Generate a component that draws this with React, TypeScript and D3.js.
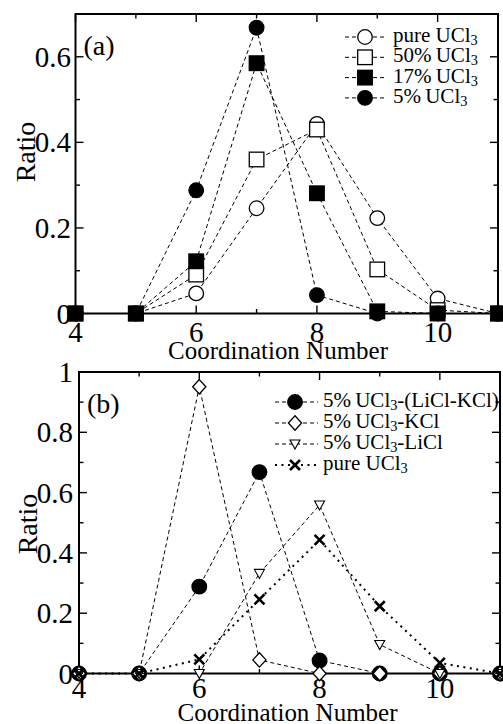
import React from "react";
import * as d3 from "d3";

// Coordination numbers on the x axis
const coordination = [4, 5, 6, 7, 8, 9, 10, 11];

// Panel (a): ratio of U coordination numbers in UCl3 mixtures
const pureUCl3 = [0, 0, 0.047, 0.246, 0.443, 0.223, 0.035, 0];
const ucl3At50 = [0, 0, 0.091, 0.36, 0.43, 0.103, 0.008, 0];
const ucl3At17 = [0, 0, 0.122, 0.585, 0.281, 0.005, 0, 0];
const ucl3At5 = [0, 0, 0.288, 0.668, 0.043, 0, 0, 0];

// Panel (b): 5% UCl3 in different solvent salts
const ucl3LiClKCl = [0, 0, 0.288, 0.668, 0.043, 0, 0, 0];
const ucl3KCl = [0, 0, 0.951, 0.045, 0, 0, 0, 0];
const ucl3LiCl = [0, 0, 0, 0.332, 0.559, 0.096, 0, 0];

const xTicksMajor = [4, 6, 8, 10];
const xTicksMinor = [5, 7, 9];
const yTicksA = [0, 0.2, 0.4, 0.6];
const yTicksB = [0, 0.2, 0.4, 0.6, 0.8, 1];

const FONT = "'Liberation Serif', 'Times New Roman', serif";

type MarkerKind = "circle" | "square" | "diamond" | "triangle" | "cross";

interface SeriesDef {
  values: number[];
  marker: MarkerKind;
  filled: boolean;
  dotted?: boolean;
}

function Marker({ kind, filled, x, y }: { kind: MarkerKind; filled: boolean; x: number; y: number }) {
  const fill = filled ? "#000" : "#fff";
  const sw = 1.3;
  switch (kind) {
    case "circle":
      return <circle cx={x} cy={y} r={7.3} fill={fill} stroke="#000" strokeWidth={sw} />;
    case "square":
      return <rect x={x - 7.3} y={y - 7.3} width={14.6} height={14.6} fill={fill} stroke="#000" strokeWidth={sw} />;
    case "diamond":
      return (
        <path
          d={`M${x},${y - 7.2}L${x + 6.6},${y}L${x},${y + 7.2}L${x - 6.6},${y}Z`}
          fill={fill}
          stroke="#000"
          strokeWidth={sw}
        />
      );
    case "triangle":
      return (
        <path
          d={`M${x - 5},${y - 4}L${x + 5},${y - 4}L${x},${y + 5}Z`}
          fill={fill}
          stroke="#000"
          strokeWidth={1.1}
        />
      );
    case "cross":
      return (
        <path
          d={`M${x - 5},${y - 5}L${x + 5},${y + 5}M${x - 5},${y + 5}L${x + 5},${y - 5}`}
          stroke="#000"
          strokeWidth={2.6}
          fill="none"
        />
      );
  }
}

function UClText({ x, y, prefix, suffix, size }: { x: number; y: number; prefix: string; suffix?: string; size: number }) {
  return (
    <text x={x} y={y} fontFamily={FONT} fontSize={size} dominantBaseline="middle">
      <tspan>{prefix}</tspan>
      <tspan>UCl</tspan>
      <tspan fontSize={size * 0.68} dy={5}>3</tspan>
      {suffix ? <tspan dy={-5}>{suffix}</tspan> : null}
    </text>
  );
}

interface LegendEntry {
  series: SeriesDef;
  prefix: string;
  suffix?: string;
}

interface PanelProps {
  left: number;
  right: number;
  top: number;
  bottom: number;
  yMax: number;
  yTicks: number[];
  series: SeriesDef[];
  tag: string;
  legend: LegendEntry[];
  legendX0: number;
  legendX1: number;
  legendMarkerX: number;
  legendTextX: number;
  legendY: number;
  legendStep: number;
  xLabelBaseline: number;
  titleX: number;
  titleBaseline: number;
  yLabelX: number;
  yLabelY: number;
  yTickGap: number;
}

function Panel(p: PanelProps) {
  const x = d3.scaleLinear().domain([4, 11]).range([p.left, p.right]);
  const y = d3.scaleLinear().domain([0, p.yMax]).range([p.bottom, p.top]);
  const line = d3
    .line<number>()
    .x((_, i) => x(coordination[i]))
    .y((v) => y(v));

  const yMinor = d3.range(0.1, p.yMax + 0.001, 0.2);
  const major = 8;
  const minor = 4.5;
  const yFmt = (v: number) => (v === 0 ? "0" : v === 1 ? "1" : d3.format(".1f")(v));

  return (
    <g>
      {/* ticks on all four sides, pointing inward */}
      <g stroke="#000" strokeWidth={1.4}>
        {xTicksMajor.map((t) => (
          <g key={`xM${t}`}>
            <line x1={x(t)} x2={x(t)} y1={p.bottom} y2={p.bottom - major} />
            <line x1={x(t)} x2={x(t)} y1={p.top} y2={p.top + major} />
          </g>
        ))}
        {xTicksMinor.map((t) => (
          <g key={`xm${t}`}>
            <line x1={x(t)} x2={x(t)} y1={p.bottom} y2={p.bottom - minor} />
            <line x1={x(t)} x2={x(t)} y1={p.top} y2={p.top + minor} />
          </g>
        ))}
        {p.yTicks.map((t) => (
          <g key={`yM${t}`}>
            <line x1={p.left} x2={p.left + major} y1={y(t)} y2={y(t)} />
            <line x1={p.right} x2={p.right - major} y1={y(t)} y2={y(t)} />
          </g>
        ))}
        {yMinor.map((t) => (
          <g key={`ym${t}`}>
            <line x1={p.left} x2={p.left + minor} y1={y(t)} y2={y(t)} />
            <line x1={p.right} x2={p.right - minor} y1={y(t)} y2={y(t)} />
          </g>
        ))}
      </g>

      {/* frame */}
      <rect x={p.left} y={p.top} width={p.right - p.left} height={p.bottom - p.top} fill="none" stroke="#000" strokeWidth={2} />

      {/* tick labels */}
      {p.yTicks.map((t) => (
        <text
          key={`yl${t}`}
          x={p.left - p.yTickGap}
          y={y(t)}
          textAnchor="end"
          dominantBaseline="central"
          fontFamily={FONT}
          fontSize={29}
        >
          {yFmt(t)}
        </text>
      ))}
      {xTicksMajor.map((t) => (
        <text key={`xl${t}`} x={x(t)} y={p.xLabelBaseline} textAnchor="middle" fontFamily={FONT} fontSize={29}>
          {t}
        </text>
      ))}

      {/* axis titles */}
      <text
        x={p.titleX}
        y={p.titleBaseline}
        textAnchor="middle"
        fontFamily={FONT}
        fontSize={25}
        textLength={220}
        lengthAdjust="spacingAndGlyphs"
      >
        Coordination Number
      </text>
      <text
        transform={`translate(${p.yLabelX},${p.yLabelY}) rotate(-90)`}
        textAnchor="middle"
        dominantBaseline="central"
        fontFamily={FONT}
        fontSize={28}
      >
        Ratio
      </text>

      {/* panel tag */}
      <text x={p.left + 8} y={p.top + 41} fontFamily={FONT} fontSize={28}>
        {p.tag}
      </text>

      {/* data */}
      {p.series.map((s, si) => (
        <g key={`s${si}`}>
          <path
            d={line(s.values) || ""}
            fill="none"
            stroke="#000"
            strokeWidth={s.dotted ? 2 : 1}
            strokeDasharray={s.dotted ? "2,4.5" : "4,3"}
          />
          {s.values.map((v, i) => (
            <Marker key={i} kind={s.marker} filled={s.filled} x={x(coordination[i])} y={y(v)} />
          ))}
        </g>
      ))}

      {/* legend */}
      {p.legend.map((e, i) => {
        const ly = p.legendY + i * p.legendStep;
        return (
          <g key={`lg${i}`}>
            <line
              x1={p.legendX0}
              x2={p.legendX1}
              y1={ly}
              y2={ly}
              stroke="#000"
              strokeWidth={e.series.dotted ? 2 : 1}
              strokeDasharray={e.series.dotted ? "2,4.5" : "4,3"}
            />
            <Marker kind={e.series.marker} filled={e.series.filled} x={p.legendMarkerX} y={ly} />
            <UClText x={p.legendTextX} y={ly} prefix={e.prefix} suffix={e.suffix} size={21} />
          </g>
        );
      })}
    </g>
  );
}

export default function App() {
  const sPure: SeriesDef = { values: pureUCl3, marker: "circle", filled: false };
  const s50: SeriesDef = { values: ucl3At50, marker: "square", filled: false };
  const s17: SeriesDef = { values: ucl3At17, marker: "square", filled: true };
  const s5: SeriesDef = { values: ucl3At5, marker: "circle", filled: true };

  const bMix: SeriesDef = { values: ucl3LiClKCl, marker: "circle", filled: true };
  const bKCl: SeriesDef = { values: ucl3KCl, marker: "diamond", filled: false };
  const bLiCl: SeriesDef = { values: ucl3LiCl, marker: "triangle", filled: false };
  const bPure: SeriesDef = { values: pureUCl3, marker: "cross", filled: false, dotted: true };

  return (
    <svg
      width={503}
      height={724}
      style={{ position: "absolute", left: 0, top: 0, background: "#fff" }}
    >
      <rect width={503} height={724} fill="#fff" />
      <Panel
        left={75.5}
        right={498}
        top={14}
        bottom={313.5}
        yMax={0.7}
        yTicks={yTicksA}
        series={[sPure, s50, s5, s17]}
        tag="(a)"
        legend={[
          { series: sPure, prefix: "pure " },
          { series: s50, prefix: "50%\u2009" },
          { series: s17, prefix: "17%\u2009" },
          { series: s5, prefix: "5%\u2009" },
        ]}
        legendX0={345}
        legendX1={387}
        legendMarkerX={365}
        legendTextX={393}
        legendY={37}
        legendStep={20.3}
        xLabelBaseline={342}
        titleX={278}
        titleBaseline={359}
        yLabelX={25}
        yLabelY={152}
        yTickGap={4.5}
      />
      <Panel
        left={79}
        right={500}
        top={372}
        bottom={673.5}
        yMax={1}
        yTicks={yTicksB}
        series={[bMix, bKCl, bLiCl, bPure]}
        tag="(b)"
        legend={[
          { series: bMix, prefix: "5%\u2009", suffix: "-(LiCl-KCl)" },
          { series: bKCl, prefix: "5%\u2009", suffix: "-KCl" },
          { series: bLiCl, prefix: "5%\u2009", suffix: "-LiCl" },
          { series: bPure, prefix: "pure " },
        ]}
        legendX0={275}
        legendX1={318}
        legendMarkerX={295}
        legendTextX={323}
        legendY={402}
        legendStep={21}
        xLabelBaseline={698}
        titleX={287.5}
        titleBaseline={721}
        yLabelX={27}
        yLabelY={524}
        yTickGap={6}
      />
    </svg>
  );
}
